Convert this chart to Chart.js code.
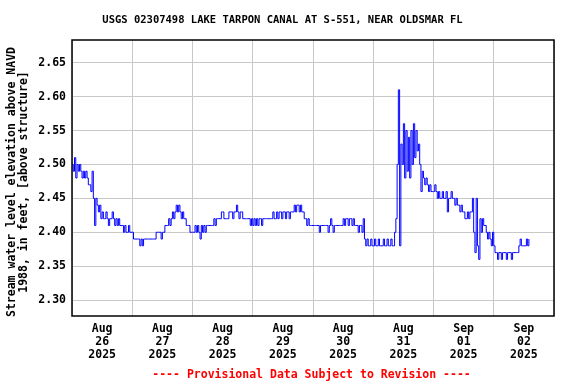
<!DOCTYPE html>
<html>
<head>
<meta charset="utf-8">
<script src="https://cdn.jsdelivr.net/npm/chart.js@4.4.0/dist/chart.umd.min.js"></script>
<style>
body{margin:0;background:#fff}
</style>
</head>
<body>
<canvas id="chart" width="576" height="384"></canvas>
<script>

/* DATA - half hourly gage height, one array per day (starts 00:00) */

const aug26=[2.50,2.49,2.51,2.48,2.50,2.49,2.50,2.49,2.48,2.49,2.48,2.49,2.48,2.47,2.47,2.46,2.49,2.45,2.41,2.45,2.44,2.43,2.44,2.42,2.43,2.42,2.42,2.43,2.42,2.41,2.42,2.42,2.43,2.42,2.41,2.42,2.41,2.42,2.41,2.41,2.41,2.40,2.41,2.40,2.40,2.41,2.40,2.40]
const aug27=[2.40,2.39,2.39,2.39,2.39,2.39,2.38,2.39,2.38,2.39,2.39,2.39,2.39,2.39,2.39,2.39,2.39,2.39,2.39,2.40,2.40,2.40,2.40,2.39,2.40,2.40,2.41,2.41,2.41,2.42,2.41,2.42,2.43,2.42,2.43,2.44,2.43,2.44,2.43,2.42,2.43,2.42,2.42,2.41,2.41,2.41,2.40,2.40]
const aug28=[2.40,2.40,2.41,2.40,2.41,2.40,2.39,2.41,2.40,2.41,2.40,2.41,2.41,2.41,2.41,2.41,2.41,2.42,2.41,2.42,2.42,2.42,2.42,2.43,2.43,2.42,2.42,2.42,2.42,2.43,2.43,2.43,2.42,2.43,2.43,2.44,2.43,2.42,2.43,2.43,2.42,2.42,2.42,2.42,2.42,2.42,2.41,2.42]
const aug29=[2.41,2.42,2.41,2.42,2.41,2.42,2.42,2.41,2.42,2.42,2.42,2.42,2.42,2.42,2.42,2.42,2.43,2.42,2.42,2.43,2.42,2.43,2.43,2.42,2.43,2.43,2.42,2.43,2.43,2.42,2.43,2.43,2.43,2.44,2.43,2.44,2.44,2.43,2.44,2.43,2.43,2.42,2.42,2.41,2.42,2.41,2.41,2.41]
const aug30=[2.41,2.41,2.41,2.41,2.41,2.40,2.41,2.41,2.41,2.41,2.41,2.41,2.40,2.41,2.42,2.41,2.40,2.41,2.41,2.41,2.41,2.41,2.41,2.41,2.42,2.41,2.42,2.42,2.41,2.42,2.42,2.41,2.42,2.41,2.41,2.41,2.40,2.41,2.41,2.40,2.42,2.39,2.38,2.39,2.38,2.38,2.39,2.38]
const aug31=[2.38,2.39,2.38,2.38,2.39,2.38,2.38,2.38,2.39,2.38,2.38,2.39,2.38,2.38,2.39,2.38,2.38,2.40,2.42,2.50,2.61,2.38,2.53,2.50,2.56,2.48,2.55,2.49,2.54,2.48,2.55,2.50,2.56,2.51,2.55,2.52,2.53,2.50,2.46,2.49,2.48,2.47,2.48,2.47,2.46,2.47,2.46,2.46]
const sep01=[2.46,2.47,2.46,2.45,2.46,2.45,2.45,2.46,2.45,2.45,2.46,2.43,2.45,2.45,2.46,2.45,2.45,2.44,2.45,2.44,2.44,2.43,2.44,2.43,2.43,2.42,2.42,2.43,2.42,2.43,2.43,2.45,2.40,2.37,2.45,2.38,2.36,2.42,2.40,2.42,2.41,2.41,2.40,2.39,2.40,2.39,2.38,2.40]
const sep02=[2.38,2.37,2.37,2.36,2.37,2.37,2.36,2.37,2.37,2.37,2.36,2.37,2.37,2.37,2.36,2.37,2.37,2.37,2.37,2.37,2.38,2.39,2.38,2.38,2.38,2.38,2.39,2.38,2.39]

const days=[aug26,aug27,aug28,aug29,aug30,aug31,sep01,sep02]

const dayMonths=["Aug","Aug","Aug","Aug","Aug","Aug","Sep","Sep"]
const dayNums=["26","27","28","29","30","31","01","02"]
const dayYear="2025"

const yTicks=[2.30,2.35,2.40,2.45,2.50,2.55,2.60,2.65]
const xTicks=[0,12,24,36,48,60,72,84,96,108,120,132,144,156,168,180,192]

const titleText="USGS 02307498 LAKE TARPON CANAL AT S-551, NEAR OLDSMAR FL"
const yTitle=["Stream water level elevation above NAVD","1988, in feet, [above structure]"]
const footText="---- Provisional Data Subject to Revision ----"


/* points: hours since Aug 26 00:00 */

let points=[]

days.forEach((vals,d)=>{
vals.forEach((v,i)=>{
points.push({x:d*24+i*0.5,y:v})
})
})


const FONT='"DejaVu Sans Mono", monospace'

/* frame + titles */

const frameText={
id:"frameText",
afterDraw(chart){

const ctx=chart.ctx
const a=chart.chartArea

ctx.save()

ctx.strokeStyle="#000"
ctx.lineWidth=1.5
ctx.strokeRect(a.left,a.top,a.right-a.left,a.bottom-a.top)

ctx.fillStyle="#000"
ctx.textAlign="center"
ctx.textBaseline="middle"
ctx.font="bold 10.5px "+FONT
ctx.fillText(titleText,282.5,20)

ctx.font="bold 11.5px "+FONT
ctx.save()
ctx.translate(12.5,182)
ctx.rotate(-Math.PI/2)
ctx.fillText(yTitle[0],0,0)
ctx.fillText(yTitle[1],0,12)
ctx.restore()

ctx.fillStyle="#ff0000"
ctx.fillText(footText,311.5,375)

ctx.restore()

}
}


new Chart(document.getElementById("chart"),{

type:"line",

data:{
datasets:[{
data:points,
borderColor:"#0000ff",
borderWidth:1,
pointRadius:0,
stepped:true,
fill:false
}]
},

options:{
responsive:false,
animation:false,
layout:{
padding:{top:40,right:22,bottom:24,left:0}
},
plugins:{
legend:{display:false},
tooltip:{enabled:false}
},
scales:{
x:{
type:"linear",
min:0,
max:192,
afterBuildTicks:s=>{s.ticks=xTicks.map(v=>({value:v}))},
afterFit:s=>{s.height=44},
border:{display:false},
grid:{
color:c=>(c.tick && c.tick.value%24===0)?"#c8c8c8":"rgba(0,0,0,0)",
drawTicks:false
},
ticks:{
autoSkip:false,
maxRotation:0,
padding:7,
color:"#000",
font:{family:FONT,size:11.5,weight:"bold",lineHeight:"13px"},
callback:v=>{
if(v%24!==12) return ""
let d=(v-12)/24
return [dayMonths[d],dayNums[d],dayYear]
}
}
},
y:{
min:2.2765,
max:2.6835,
afterBuildTicks:s=>{s.ticks=yTicks.map(v=>({value:v}))},
afterFit:s=>{s.width=72},
border:{display:false},
grid:{color:"#c8c8c8",drawTicks:false},
ticks:{
padding:6,
color:"#000",
font:{family:FONT,size:11.5,weight:"bold"},
callback:v=>v.toFixed(2)
}
}
}
},

plugins:[frameText]

})

</script>
</body>
</html>
